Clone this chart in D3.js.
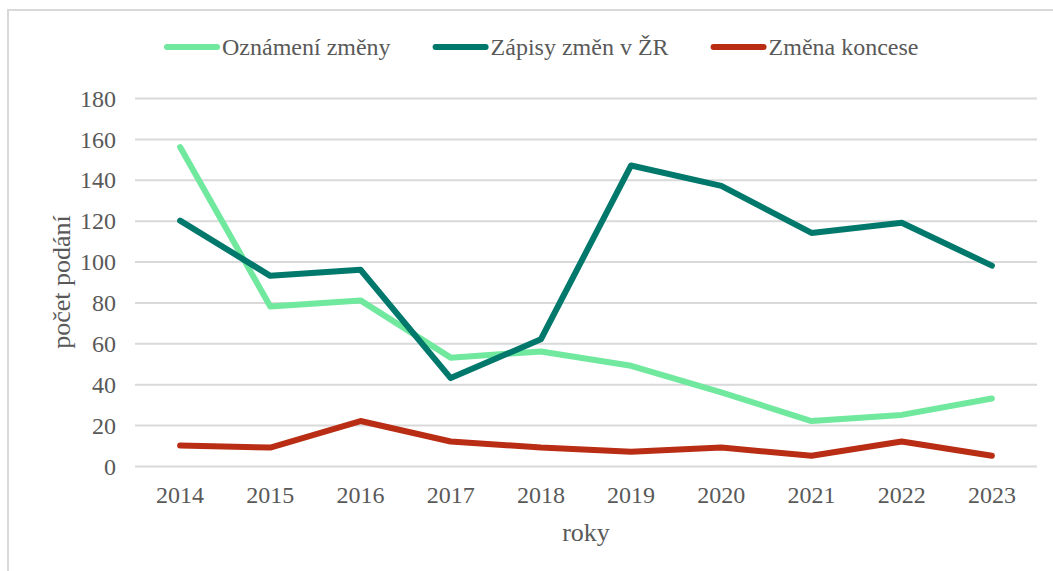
<!DOCTYPE html>
<html>
<head>
<meta charset="utf-8">
<script src="https://cdn.jsdelivr.net/npm/d3@7"></script>
<style>
  body { margin: 0; background: #fff; }
  svg { display: block; font-family: "Liberation Serif", "Times New Roman", serif; }
  .grid line { stroke: #d9d9d9; stroke-width: 2; }
  .axis text { fill: #595959; font-size: 24px; }
</style>
</head>
<body>
<svg width="1053" height="571"></svg>
<script>
// data
var years = ["2014", "2015", "2016", "2017", "2018", "2019", "2020", "2021", "2022", "2023"];
var oznameni = [156, 78, 81, 53, 56, 49, 36, 22, 25, 33];
var zapisy = [120, 93, 96, 43, 62, 147, 137, 114, 119, 98];
var koncese = [10, 9, 22, 12, 9, 7, 9, 5, 12, 5];
var seriesNames = ["Oznámení změny", "Zápisy změn v ŽR", "Změna koncese"];
var seriesColors = ["#70e89e", "#00786b", "#b82d14"];
var yTicks = [0, 20, 40, 60, 80, 100, 120, 140, 160, 180];

var series = [oznameni, zapisy, koncese].map(function (vals, i) {
    return { name: seriesNames[i], color: seriesColors[i], values: vals };
});

var svg = d3.select("svg");

// chart frame
svg.append("rect")
    .attr("x", 8).attr("y", 10)
    .attr("width", 1100).attr("height", 600)
    .attr("fill", "none")
    .attr("stroke", "#d9d9d9")
    .attr("stroke-width", 2);

var plot = { left: 135, right: 1037, top: 98, bottom: 466 };

var x = d3.scaleBand()
    .domain(years)
    .range([plot.left, plot.right]);

var y = d3.scaleLinear()
    .domain([0, 180])
    .range([plot.bottom, plot.top]);

// d3 axes put their own font on the group, drop it so the css font applies
var plainAxis = function (g) {
    g.attr("font-family", null).attr("font-size", null);
    g.select(".domain").remove();
};

// gridlines
svg.append("g")
    .attr("class", "grid")
    .attr("transform", "translate(" + plot.left + ",0)")
    .call(d3.axisLeft(y).tickValues(yTicks).tickSize(-(plot.right - plot.left)).tickFormat(""))
    .call(plainAxis);

// y axis labels
svg.append("g")
    .attr("class", "axis")
    .attr("transform", "translate(" + 116 + ",0)")
    .call(d3.axisLeft(y).tickValues(yTicks).tickSize(0).tickPadding(0))
    .call(plainAxis)
    .selectAll("text")
    .attr("dy", "0.34em");

// x axis labels
svg.append("g")
    .attr("class", "axis")
    .attr("transform", "translate(0," + plot.bottom + ")")
    .call(d3.axisBottom(x).tickSize(0).tickPadding(0))
    .call(plainAxis)
    .selectAll("text")
    .attr("dy", null)
    .attr("y", 37);

// lines
var line = d3.line()
    .x(function (d, i) { return x(years[i]) + x.bandwidth() / 2; })
    .y(function (d) { return y(d); });

svg.selectAll(".series")
    .data(series)
    .enter()
    .append("path")
    .attr("class", "series")
    .attr("d", function (d) { return line(d.values); })
    .attr("fill", "none")
    .attr("stroke", function (d) { return d.color; })
    .attr("stroke-width", 6)
    .attr("stroke-linejoin", "round")
    .attr("stroke-linecap", "round");

// axis titles
svg.append("text")
    .attr("transform", "translate(70,282) rotate(-90)")
    .attr("text-anchor", "middle")
    .attr("fill", "#595959")
    .attr("font-size", 26)
    .text("počet podání");

svg.append("text")
    .attr("x", (plot.left + plot.right) / 2)
    .attr("y", 541)
    .attr("text-anchor", "middle")
    .attr("fill", "#595959")
    .attr("font-size", 26)
    .text("roky");

// legend
var lx = 164;
series.forEach(function (s) {
    svg.append("line")
        .attr("x1", lx + 3).attr("x2", lx + 53)
        .attr("y1", 47).attr("y2", 47)
        .attr("stroke", s.color)
        .attr("stroke-width", 6)
        .attr("stroke-linecap", "round");
    var t = svg.append("text")
        .attr("x", lx + 58)
        .attr("y", 55)
        .attr("fill", "#595959")
        .attr("font-size", 24)
        .text(s.name);
    lx = lx + 58 + t.node().getComputedTextLength() + 42;
});
</script>
</body>
</html>
